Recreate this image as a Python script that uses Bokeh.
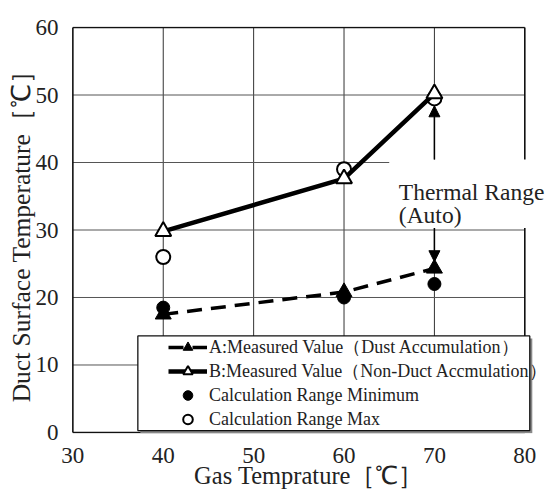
from bokeh.plotting import figure
from bokeh.models import Range1d, FixedTicker, Legend, LegendItem, Label, Arrow, NormalHead
from bokeh.embed import file_html
from bokeh.resources import INLINE

# ---- data ----
gas_temp = [40, 60, 70]
dust_measured = [17.5, 20.8, 24.3]        # A: Measured Value (Dust Accumulation)
nondust_measured = [29.8, 37.6, 50.2]     # B: Measured Value (Non-Duct Accmulation)
calc_min = [18.5, 20.0, 22.0]             # Calculation Range Minimum
calc_max = [26.0, 39.0, 49.5]             # Calculation Range Max

x_ticks = [30, 40, 50, 60, 70, 80]
y_ticks = [0, 10, 20, 30, 40, 50, 60]
grid_x = [40, 50, 60, 70]
grid_y = [10, 20, 30, 40, 50]

range_x = 70          # thermal range arrow position
range_top = 48.4
range_bottom = 25.3

FONT = "Liberation Serif"

p = figure(width=548, height=491, output_backend="svg", toolbar_location=None,
           x_range=Range1d(29.85, 82.4), y_range=Range1d(-0.15, 60.15),
           min_border_left=71, min_border_right=2, min_border_top=26, min_border_bottom=56)
p.outline_line_color = None
p.grid.visible = False
p.background_fill_color = "white"

for ax in (p.xaxis, p.yaxis):
    ax.axis_line_color = None
    ax.major_tick_line_color = None
    ax.minor_tick_line_color = None
    ax.major_tick_out = 0
    ax.major_tick_in = 0
    ax.minor_tick_out = 0
    ax.minor_tick_in = 0
    ax.major_label_text_font = FONT
    ax.major_label_text_font_size = "23px"
    ax.major_label_text_color = "#222222"
    ax.major_label_text_line_height = 1.0
    ax.axis_label_text_font = FONT
    ax.axis_label_text_font_style = "normal"
    ax.axis_label_text_color = "#222222"
    ax.axis_label_text_line_height = 1.0

p.xaxis.axis_label_text_font_size = "24.5px"
p.yaxis.axis_label_text_font_size = "25.5px"
p.xaxis.ticker = FixedTicker(ticks=x_ticks)
p.yaxis.ticker = FixedTicker(ticks=y_ticks)
p.xaxis.major_label_standoff = 14
p.yaxis.major_label_standoff = 13
p.xaxis.axis_label = "Gas Temprature［℃］"
p.yaxis.axis_label = "Duct Surface Temperature［℃］"
p.xaxis.axis_label_standoff = -4
p.yaxis.axis_label_standoff = -3

# grid lines
p.segment(x0=grid_x, y0=[y_ticks[0]] * len(grid_x), x1=grid_x, y1=[y_ticks[-1]] * len(grid_x),
          line_color="#333333", line_width=1)
p.segment(x0=[x_ticks[0]] * len(grid_y), y0=grid_y, x1=[x_ticks[-1]] * len(grid_y), y1=grid_y,
          line_color="#555555", line_width=1)
# frame border
x0, x1, y0, y1 = x_ticks[0], x_ticks[-1], y_ticks[0], y_ticks[-1]
p.segment(x0=[x0, x0, x0, x1], y0=[y0, y0, y1, y0], x1=[x1, x0, x1, x1], y1=[y0, y1, y1, y1],
          line_color="#111111", line_width=1.6)

# white backdrop for the "Thermal Range" note
p.quad(left=[65.0], right=[83.0], bottom=[30.3], top=[40.44], fill_color="white", line_color=None)

# legend box with shadow
p.quad(left=[37.47], right=[80.83], bottom=[-0.1], top=[13.93], fill_color="#888888", line_color=None)
p.quad(left=[37.19], right=[80.55], bottom=[0.29], top=[14.3], fill_color="white",
       line_color="#111111", line_width=1.3)

# calculation range circles
r_max = p.scatter(gas_temp, calc_max, marker="circle", size=14, fill_color="white",
                  line_color="black", line_width=2)
r_min = p.scatter(gas_temp, calc_min, marker="circle", size=13, fill_color="black",
                  line_color="black")

# measured lines
r_a_line = p.line(gas_temp, dust_measured, line_color="black", line_width=3.5, line_dash="15 9")
r_b_line = p.line(gas_temp, nondust_measured, line_color="black", line_width=4.5)
r_a_mark = p.scatter(gas_temp, dust_measured, marker="triangle", size=16, fill_color="black",
                     line_color="black")
r_b_mark = p.scatter(gas_temp, nondust_measured, marker="triangle", size=16, fill_color="white",
                     line_color="black", line_width=2)

# thermal range arrows
p.add_layout(Arrow(end=NormalHead(size=11, fill_color="black", line_color="black"),
                   x_start=range_x, y_start=40.44, x_end=range_x, y_end=range_top,
                   line_color="black", line_width=1.5))
p.add_layout(Arrow(end=NormalHead(size=11, fill_color="black", line_color="black"),
                   x_start=range_x, y_start=30.3, x_end=range_x, y_end=range_bottom,
                   line_color="black", line_width=1.5))

p.add_layout(Label(x=66.06, y=35.68, text="Thermal Range", text_font=FONT,
                   text_font_size="23.5px", text_color="#222222", text_baseline="alphabetic"))
p.add_layout(Label(x=66.06, y=32.29, text="(Auto)", text_font=FONT,
                   text_font_size="23.5px", text_color="#222222", text_baseline="alphabetic"))

legend = Legend(items=[
    LegendItem(label="A:Measured Value（Dust Accumulation）", renderers=[r_a_line, r_a_mark]),
    LegendItem(label="B:Measured Value（Non-Duct Accmulation）", renderers=[r_b_line, r_b_mark]),
    LegendItem(label="Calculation Range Minimum", renderers=[r_min]),
    LegendItem(label="Calculation Range Max", renderers=[r_max]),
], location=(97, 2))
legend.border_line_color = None
legend.background_fill_alpha = 0
legend.padding = 0
legend.margin = 0
legend.spacing = 0
legend.glyph_width = 39
legend.glyph_height = 24
legend.label_height = 24
legend.label_standoff = 2
legend.label_text_font = FONT
legend.label_text_font_size = "18px"
legend.label_text_color = "#222222"
legend.label_text_baseline = "middle"
p.add_layout(legend, "center")

open("out.html", "w").write(file_html(p, INLINE, title="chart"))
